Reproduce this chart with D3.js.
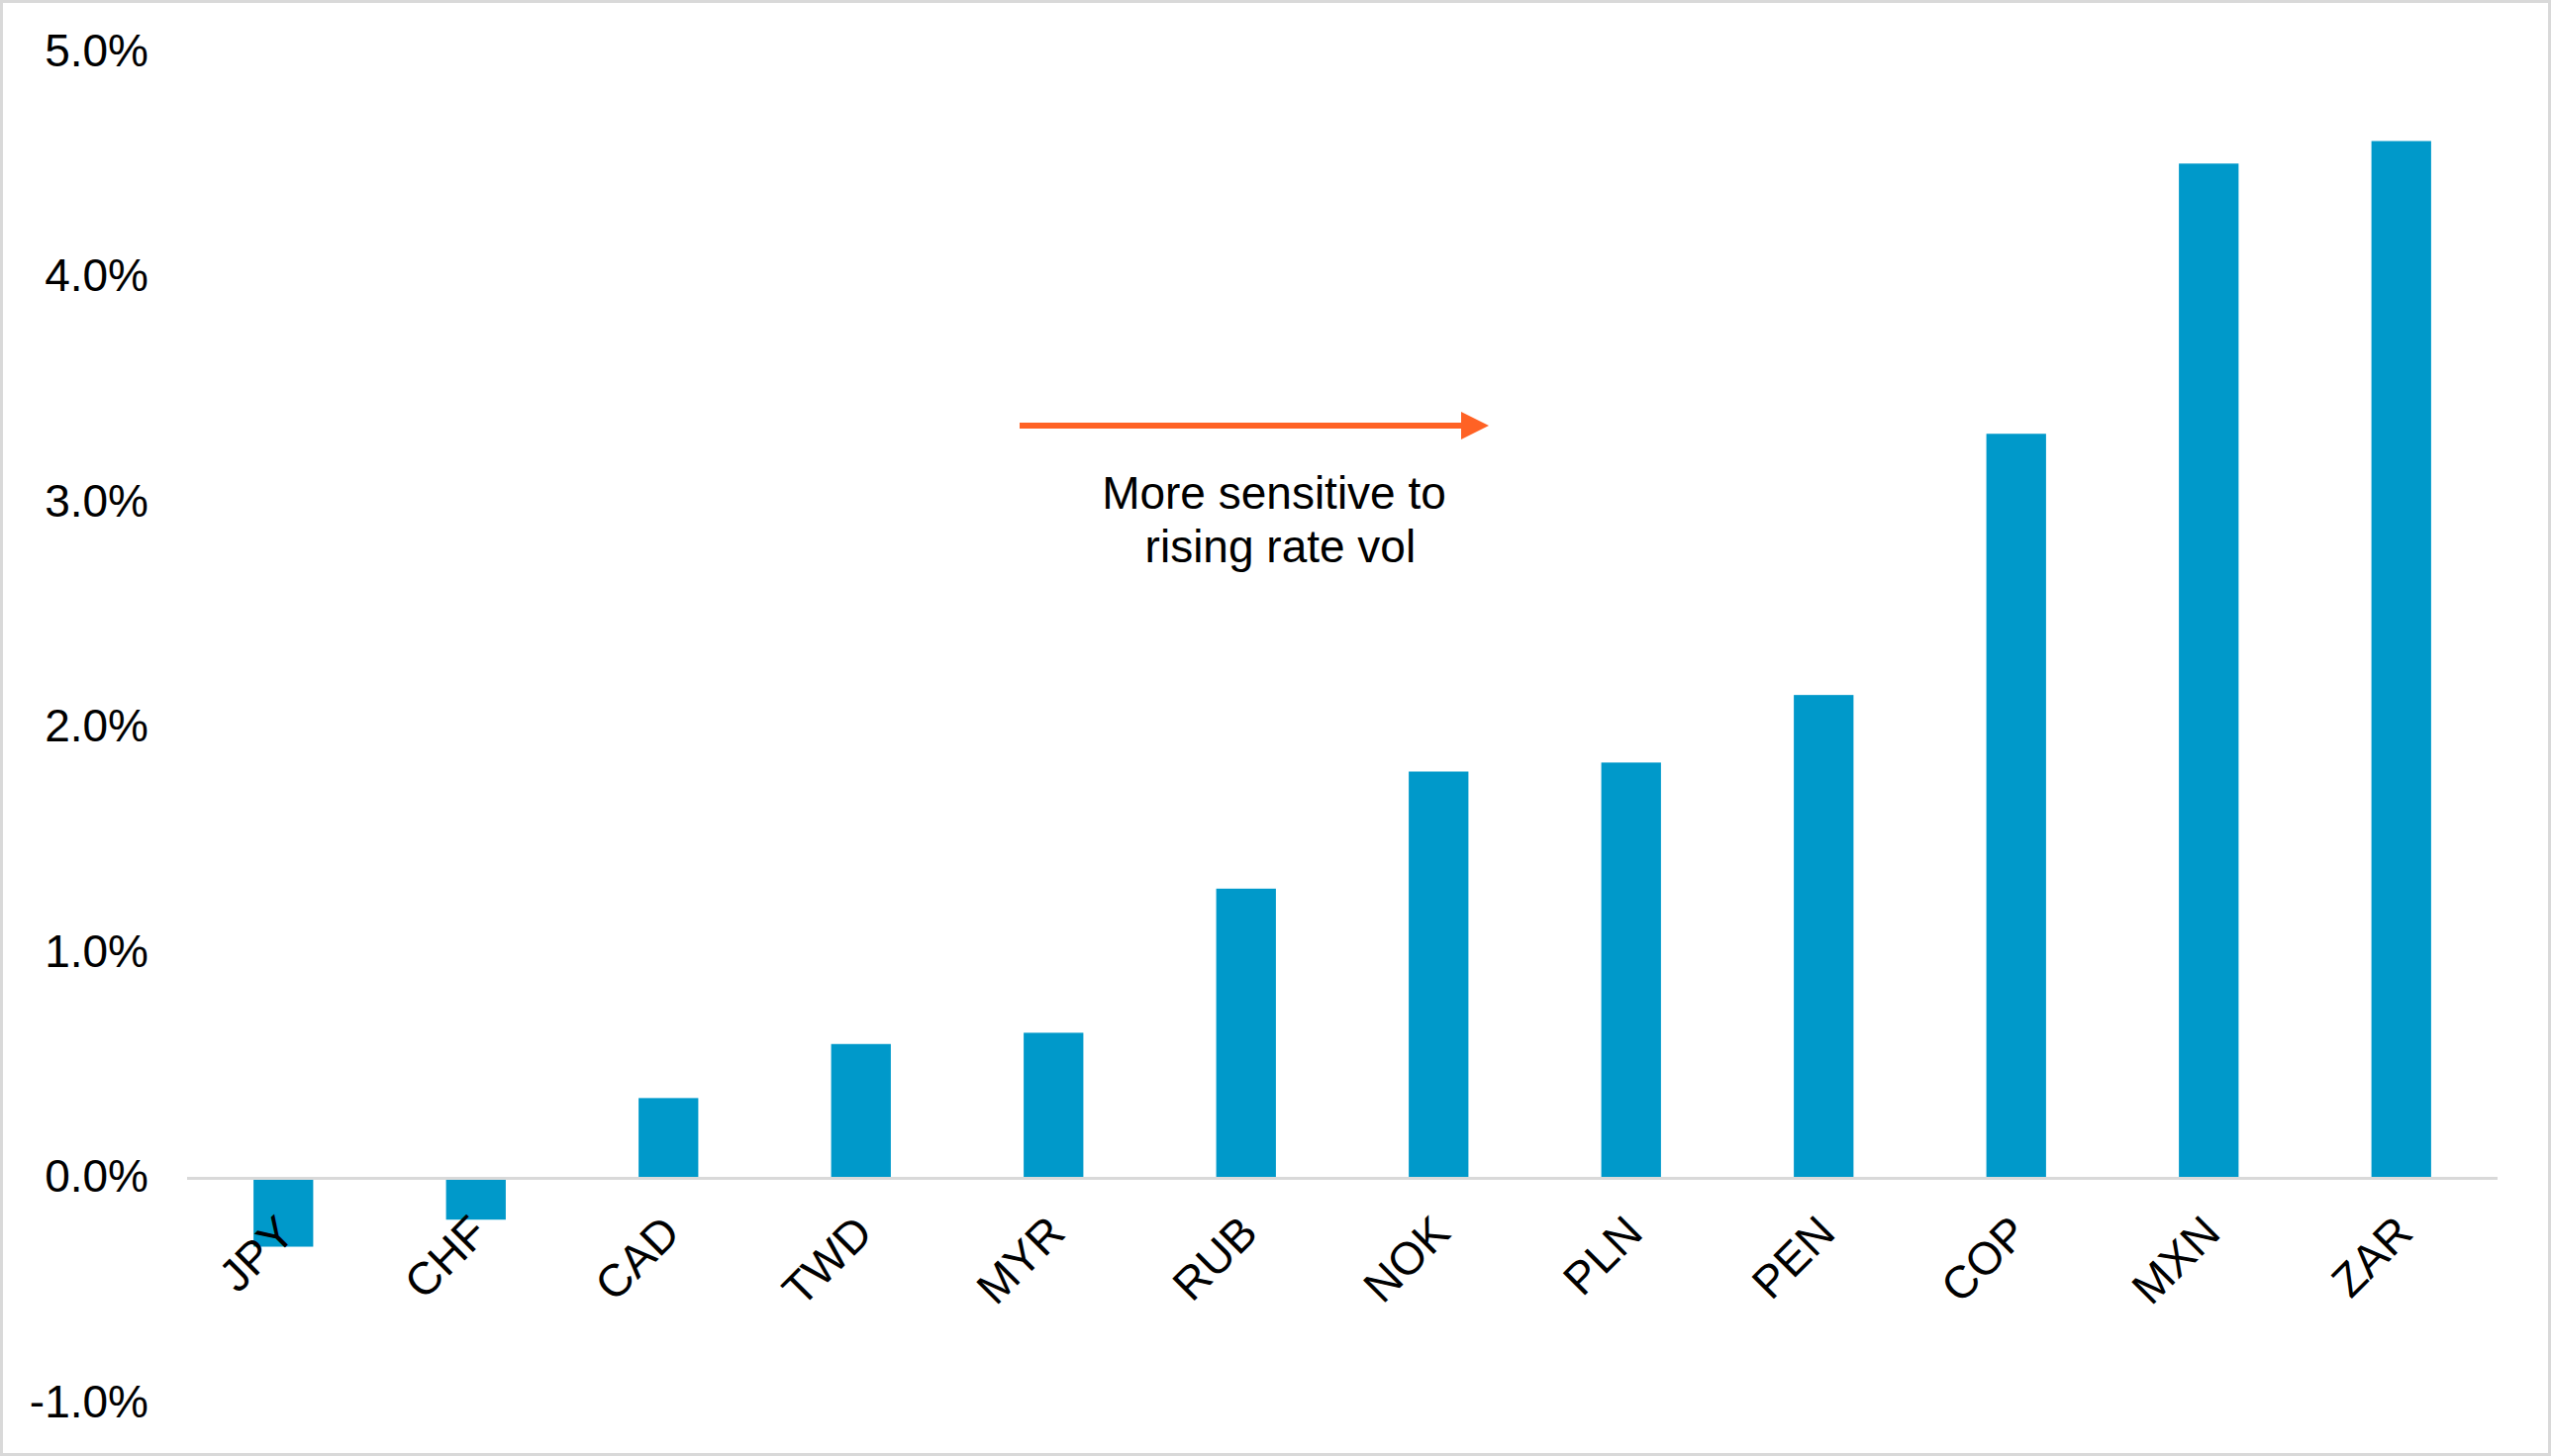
<!DOCTYPE html>
<html>
<head>
<meta charset="utf-8">
<script src="https://cdn.jsdelivr.net/npm/d3@7"></script>
<style>
  body { margin: 0; background: #fff; }
  svg text { font-family: "Liberation Sans", Arial, sans-serif; fill: #000; }
</style>
</head>
<body>
<div class="chart"></div>
<script>
// currencies, ordered by sensitivity
var currencies = ['JPY', 'CHF', 'CAD', 'TWD', 'MYR', 'RUB', 'NOK', 'PLN', 'PEN', 'COP', 'MXN', 'ZAR'];
// sensitivity in %
var sensitivity = [-0.31, -0.19, 0.35, 0.59, 0.64, 1.28, 1.80, 1.84, 2.14, 3.30, 4.50, 4.60];
var yTicks = [-1, 0, 1, 2, 3, 4, 5];
var noteLines = ['More sensitive to', ' rising rate vol'];

var width = 2577;
var height = 1471;
var plotLeft = 189, plotRight = 2523;
var fontSize = '46px';

var svg = d3.select('.chart').append('svg')
            .attr('width', width)
            .attr('height', height);

// outer frame
svg.append('rect')
   .attr('x', 1.5).attr('y', 1.5)
   .attr('width', width - 3).attr('height', height - 3)
   .attr('fill', '#fff')
   .attr('stroke', '#d9d9d9')
   .attr('stroke-width', 3);

var x = d3.scaleBand()
          .domain(currencies)
          .range([plotLeft, plotRight])
          .paddingInner(0.69)
          .paddingOuter(0.345);

var y = d3.scaleLinear()
          .domain([-1, 5])
          .range([1416.5, 51.5]);

var data = currencies.map(function(c, i) {
  return {name: c, value: sensitivity[i]};
});

// bars
svg.selectAll('rect.bar')
   .data(data)
   .enter()
   .append('rect')
   .attr('class', 'bar')
   .attr('x', function(d) { return x(d.name); })
   .attr('width', x.bandwidth())
   .attr('y', function(d) { return d.value >= 0 ? y(d.value) : y(0); })
   .attr('height', function(d) { return Math.abs(y(d.value) - y(0)); })
   .style('fill', '#0099ca');

// zero line
svg.append('line')
   .attr('x1', plotLeft).attr('x2', plotRight)
   .attr('y1', y(0) + 1.5).attr('y2', y(0) + 1.5)
   .attr('stroke', '#d9d9d9')
   .attr('stroke-width', 3);

// y axis labels (no axis line, no ticks)
// plain hyphen for negatives, like the original
var yAxis = d3.axisLeft(y)
              .tickValues(yTicks)
              .tickFormat(function(d) { return d.toFixed(1) + '%'; })
              .tickSize(0)
              .tickPadding(0);

var gy = svg.append('g')
            .attr('transform', 'translate(150,0)')
            .call(yAxis);
gy.select('.domain').remove();
gy.selectAll('text')
  .style('font-size', fontSize)
  .attr('fill', '#000');

// category labels, rotated
svg.selectAll('text.cat')
   .data(currencies)
   .enter()
   .append('text')
   .attr('class', 'cat')
   .attr('text-anchor', 'end')
   .attr('transform', function(d) {
     var cx = x(d) + x.bandwidth() / 2 + 14;
     return 'translate(' + cx + ',' + (y(0) + 59) + ') rotate(-45)';
   })
   .style('font-size', fontSize)
   .text(function(d) { return d; });

// arrow annotation
var arrowY = 430;
svg.append('line')
   .attr('x1', 1030).attr('x2', 1480)
   .attr('y1', arrowY).attr('y2', arrowY)
   .attr('stroke', '#ff6225')
   .attr('stroke-width', 6);
svg.append('path')
   .attr('d', 'M1476,' + (arrowY - 14) + ' L1504,' + arrowY + ' L1476,' + (arrowY + 14) + ' Z')
   .attr('fill', '#ff6225');

svg.selectAll('text.note')
   .data(noteLines)
   .enter()
   .append('text')
   .attr('class', 'note')
   .attr('x', 1287)
   .attr('y', function(d, i) { return 514 + i * 54; })
   .attr('text-anchor', 'middle')
   .style('font-size', fontSize)
   .style('white-space', 'pre')
   .text(function(d) { return d; });
</script>
</body>
</html>
